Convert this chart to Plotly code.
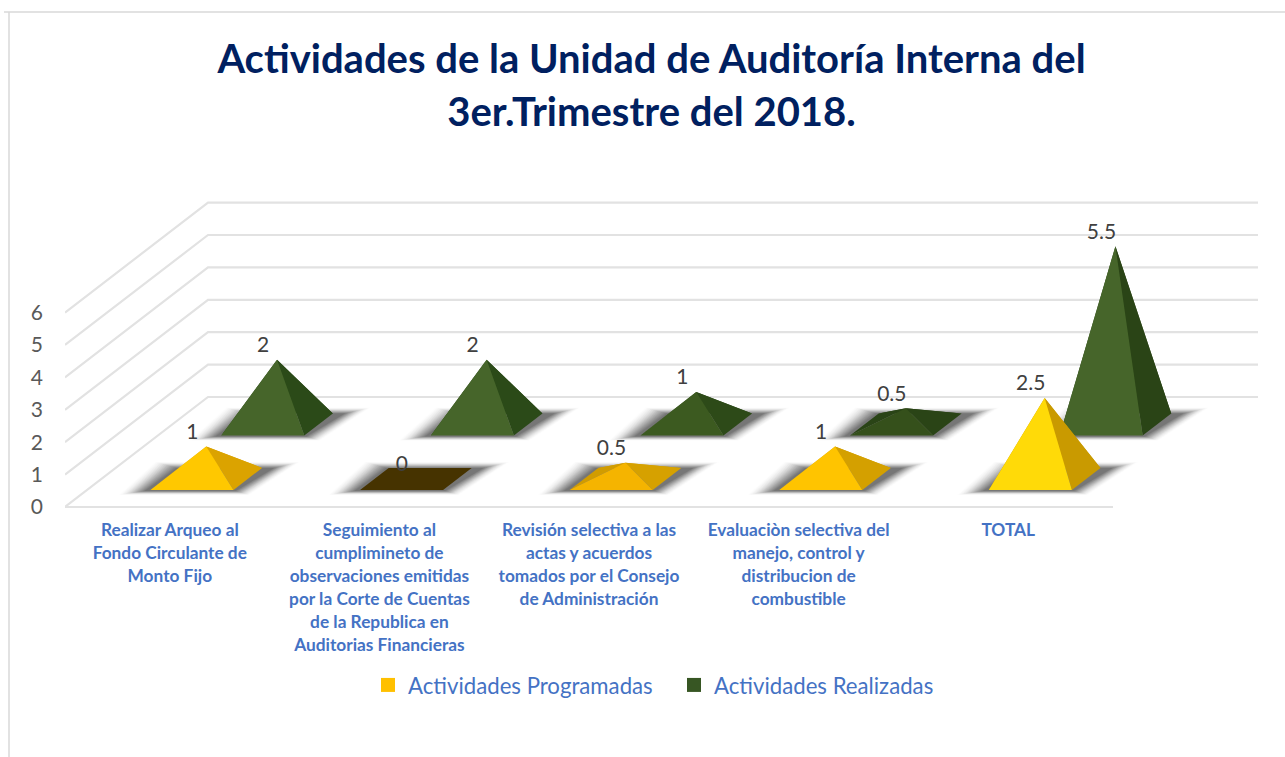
import plotly.graph_objects as go

categories = [
    "Realizar Arqueo al<br>Fondo Circulante de<br>Monto Fijo",
    "Seguimiento al<br>cumplimineto de<br>observaciones emitidas<br>por la Corte de Cuentas<br>de la Republica en<br>Auditorias Financieras",
    "Revisión selectiva a las<br>actas y acuerdos<br>tomados por el Consejo<br>de Administración",
    "Evaluaciòn selectiva del<br>manejo, control y<br>distribucion de<br>combustible",
    "TOTAL",
]
programadas = [1, 0, 0.5, 1, 2.5]
realizadas = [2, 2, 1, 0.5, 5.5]
value_ticks = [0, 1, 2, 3, 4, 5, 6]

# face colours per pyramid (front, right, left)
prog_front = ["#FFC800", "#463300", "#F5B400", "#FFC400", "#FFDA08"]
prog_right = ["#DBA300", "#463300", "#D6A100", "#D4A000", "#C99A00"]
prog_left = ["#DBA300", "#463300", "#D19C00", "#D4A000", "#C99A00"]
real_front = ["#46652A", "#46652A", "#3C5A20", "#35501B", "#46652A"]
real_right = ["#2B4A18", "#2B4A18", "#2D4A18", "#2A4416", "#2A4416"]
real_left = ["#2B4A18", "#2B4A18", "#2D4A18", "#2A4416", "#2A4416"]

W, H = 1285, 757
FONT = "Lato"
# scale of the oblique 3D box
CAT_PX, VAL_PX = 209.6, 32.4
DEPTH_PX_X, DEPTH_PX_Y = 143.0, 110.0
LEFT, RIGHT, TOP, BOTTOM = 65, 1258, 190, 517
ZERO_PX = 507
k_x = DEPTH_PX_X / CAT_PX
k_y = DEPTH_PX_Y / VAL_PX
HALF_W, HALF_D = 0.198, 0.1


def proj(c, d, v):
    return c + k_x * d, v + k_y * d


fig = go.Figure()


def poly(xs, ys, color):
    fig.add_trace(go.Scatter(x=xs + xs[:1], y=ys + ys[:1], mode="lines", fill="toself",
                             fillcolor=color, line=dict(width=0), hoverinfo="skip",
                             showlegend=False))


def line(xs, ys):
    fig.add_trace(go.Scatter(x=xs, y=ys, mode="lines", line=dict(color="#E2E2E2", width=2.2),
                             hoverinfo="skip", showlegend=False, cliponaxis=False))


# floor front edge and the gridlines of side and back walls
n_cat = len(categories)
right_c = (RIGHT - LEFT - DEPTH_PX_X) / CAT_PX
x0, y0 = proj(0, 0, 0)
x1, y1 = proj(n_cat, 0, 0)
line([x0, x1], [y0, y1])
for t in value_ticks:
    a = proj(0, 0, t)
    b = proj(0, 1, t)
    c_ = proj(right_c, 1, t)
    line([a[0], b[0], c_[0]], [a[1], b[1], c_[1]])


def shadow(c, d):
    corners = [proj(c + .5 + sx * HALF_W, d + sd * HALF_D, 0)
               for sx, sd in [(-1, -1), (1, -1), (1, 1), (-1, 1)]]
    inner = [(-6, -1), (2, -1), (12, 0), (-3, 0)]
    outer = [(-32, -5), (16, -5), (38, 6), (-24, 6)]
    n = 16
    for i in range(n):
        s = i / (n - 1)
        t = 1 - s
        xs, ys = [], []
        for (px, py), (ix, iy), (ox, oy) in zip(corners, inner, outer):
            xs.append(px + (ix + t * (ox - ix)) / CAT_PX)
            ys.append(py + (iy + t * (oy - iy)) / VAL_PX)
        poly(xs, ys, "rgba(25,25,25,%.3f)" % (0.008 + 0.085 * s))


def pyramid(c, d, v, front, right, left):
    P = lambda sx, sd: proj(c + .5 + sx * HALF_W, d + sd * HALF_D, 0)
    fl, fr, br, bl = P(-1, -1), P(1, -1), P(1, 1), P(-1, 1)
    apex = proj(c + .5, d, v)
    if v == 0:
        poly([fl[0], fr[0], br[0], bl[0]], [fl[1], fr[1], br[1], bl[1]], front)
        return
    for p, q, col in [(bl, br, right), (bl, fl, left), (fr, br, right), (fl, fr, front)]:
        poly([p[0], q[0], apex[0]], [p[1], q[1], apex[1]], col)


rows = [
    (0.75, realizadas, real_front, real_right, real_left),
    (0.255, programadas, prog_front, prog_right, prog_left),
]
for d, vals, fronts, rights, lefts in rows:
    for i in range(n_cat):
        shadow(i, d)
    for i, v in enumerate(vals):
        pyramid(i, d, v, fronts[i], rights[i], lefts[i])

# value labels
for d, vals, name in [(0.75, realizadas, "r"), (0.255, programadas, "p")]:
    pts = [proj(i + .5, d, v) for i, v in enumerate(vals)]
    fig.add_trace(go.Scatter(
        x=[p[0] - 14 / CAT_PX for p in pts], y=[p[1] + 13 / VAL_PX for p in pts],
        mode="text", text=[str(v) for v in vals], textposition="middle center",
        textfont=dict(family=FONT, size=21, color="#404040"),
        hoverinfo="skip", showlegend=False, cliponaxis=False))

# legend entries
for name, col in [("Actividades Programadas", "#FFC000"), ("Actividades Realizadas", "#375623")]:
    fig.add_trace(go.Scatter(x=[None], y=[None], mode="markers", name=name,
                             marker=dict(symbol="square", size=14, color=col)))

pw, ph = RIGHT - LEFT, BOTTOM - TOP


def px_x(x):
    return (x - LEFT) / pw


def px_y(y):
    return (BOTTOM - y) / ph


title_html = ('<span style="font-size:40px"><b>Actividades de la Unidad de Auditoría Interna del</b></span><br>'
              '<span style="font-size:40px"><b>3er.Trimestre del 2018.</b></span>')
tick_html = ['<span style="font-size:17.3px"><b>%s</b></span>' %
             s.replace("<br>", '</b></span><br><span style="font-size:17.3px"><b>') for s in categories]

fig.update_layout(
    width=W, height=H,
    margin=dict(l=LEFT, r=W - RIGHT, t=TOP, b=H - BOTTOM, pad=0),
    paper_bgcolor="white", plot_bgcolor="white",
    title=dict(text=title_html, x=651.5 / W, xanchor="center", y=1 - 73 / H, yanchor="middle",
               font=dict(family=FONT, size=41, color="#002060")),
    xaxis=dict(range=[0, pw / CAT_PX], tickmode="array", tickvals=[i + .5 for i in range(n_cat)],
               ticktext=tick_html, tickangle=0, showgrid=False, zeroline=False, showline=False,
               ticks="", ticklabelstandoff=0, automargin=False,
               tickfont=dict(family=FONT, size=17.7, color="#4472C4")),
    yaxis=dict(range=[(ZERO_PX - BOTTOM) / VAL_PX, (ZERO_PX - TOP) / VAL_PX], tickmode="array",
               tickvals=value_ticks, ticktext=[str(t) for t in value_ticks], showgrid=False,
               zeroline=False, showline=False, ticks="", ticklabelstandoff=21, automargin=False,
               tickfont=dict(family=FONT, size=21, color="#595959")),
    legend=dict(orientation="h", x=px_x(368), xanchor="left", y=px_y(685), yanchor="middle",
                font=dict(family=FONT, size=22.2, color="#4472C4"), bgcolor="rgba(0,0,0,0)",
                entrywidthmode="pixels", entrywidth=261,
                traceorder="normal", itemclick=False, itemdoubleclick=False),
    shapes=[
        dict(type="line", xref="paper", yref="paper", x0=px_x(4), x1=px_x(W), y0=px_y(12), y1=px_y(12),
             line=dict(color="#D9D9D9", width=1.5)),
        dict(type="line", xref="paper", yref="paper", x0=px_x(9), x1=px_x(9), y0=px_y(12), y1=px_y(H),
             line=dict(color="#D9D9D9", width=1.5)),
    ],
)
fig.write_html("out.html", config=dict(displayModeBar=False),
               post_script="document.body.style.margin='0';document.documentElement.style.overflow='hidden';")
